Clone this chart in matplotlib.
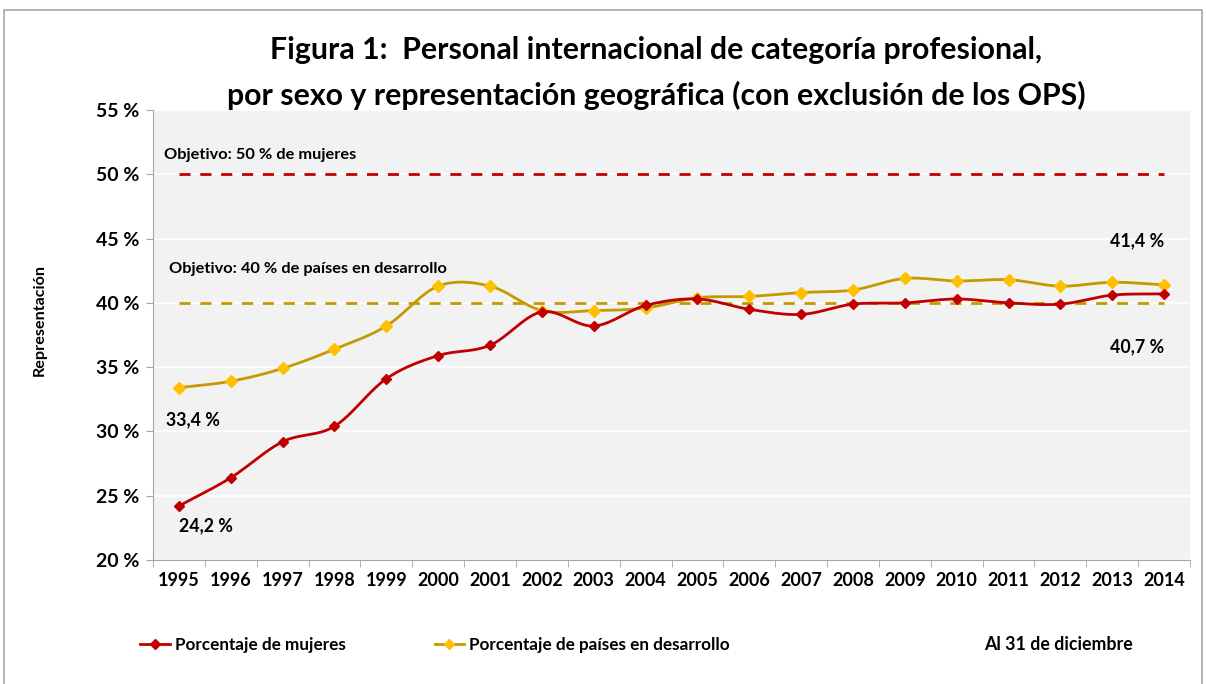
import numpy as np
import matplotlib
matplotlib.use('Agg')
import matplotlib.pyplot as plt
from matplotlib.lines import Line2D
from matplotlib.patches import Rectangle

plt.rcParams['font.family'] = ['Lato', 'DejaVu Sans']
plt.rcParams['font.weight'] = 'bold'

# datos
anios = ['1995', '1996', '1997', '1998', '1999', '2000', '2001', '2002', '2003', '2004',
         '2005', '2006', '2007', '2008', '2009', '2010', '2011', '2012', '2013', '2014']
mujeres = [24.2, 26.4, 29.2, 30.4, 34.1, 35.9, 36.7, 39.3, 38.2, 39.8,
           40.3, 39.5, 39.1, 39.9, 40.0, 40.3, 40.0, 39.9, 40.6, 40.7]
paises_desarrollo = [33.4, 33.9, 34.9, 36.4, 38.2, 41.3, 41.3, 39.4, 39.4, 39.6,
                     40.4, 40.5, 40.8, 41.0, 41.9, 41.7, 41.8, 41.3, 41.6, 41.4]
objetivo_mujeres = 50
objetivo_paises = 40
yticks = [20, 25, 30, 35, 40, 45, 50, 55]

rojo = '#C00000'
oro = '#C49A00'
amarillo = '#FFC000'


def suavizar(y, n=20):
    # curva suave tipo Excel (Catmull-Rom) entre los puntos
    y = np.asarray(y, dtype=float)
    p = np.concatenate([[2 * y[0] - y[1]], y, [2 * y[-1] - y[-2]]])
    xs, ys = [], []
    for i in range(len(y) - 1):
        p0, p1, p2, p3 = p[i], p[i + 1], p[i + 2], p[i + 3]
        t = np.linspace(0, 1, n, endpoint=False)
        yy = 0.5 * ((2 * p1) + (-p0 + p2) * t + (2 * p0 - 5 * p1 + 4 * p2 - p3) * t ** 2
                    + (-p0 + 3 * p1 - 3 * p2 + p3) * t ** 3)
        xs.extend(i + t)
        ys.extend(yy)
    xs.append(len(y) - 1)
    ys.append(y[-1])
    return np.array(xs), np.array(ys)


def pct(v):
    return f'{v} %'.replace('.', ',')


fig = plt.figure(figsize=(12.06, 6.84), dpi=100)
fig.patches.append(Rectangle((4 / 1206, -0.01), 1198 / 1206, (684 - 10) / 684 + 0.01,
                             transform=fig.transFigure, fill=False, edgecolor='#A6A6A6', lw=1.2))

ax = fig.add_axes([153 / 1206, (684 - 560) / 684, (1190 - 153) / 1206, 450 / 684])
ax.set_facecolor('#F2F2F2')
x = np.arange(len(anios))

for v in yticks:
    ax.axhline(v, color='white', lw=1.2, zorder=1)

ax.plot([0, len(anios) - 1], [objetivo_mujeres] * 2, color=rojo, lw=2, ls=(0, (4, 3.5)), zorder=2)
ax.plot([0, len(anios) - 1], [objetivo_paises] * 2, color=oro, lw=2, ls=(0, (4, 3.5)), zorder=2)

xs, ys = suavizar(paises_desarrollo)
ax.plot(xs, ys, color=oro, lw=2, zorder=3)
ax.plot(x, paises_desarrollo, ls='', marker='D', ms=6.5, color=amarillo, mec=amarillo, zorder=4)
xs, ys = suavizar(mujeres)
ax.plot(xs, ys, color=rojo, lw=2, zorder=5)
ax.plot(x, mujeres, ls='', marker='D', ms=5.5, color=rojo, mec=rojo, zorder=6)

ax.set_xlim(-0.5, len(anios) - 0.5)
ax.set_ylim(20, 55)
ax.set_yticks(yticks)
ax.set_yticklabels([f'{v} %' for v in yticks], fontsize=14, fontweight='bold')
ax.set_xticks(x)
ax.set_xticklabels(anios, fontsize=13, fontweight='bold')
ax.set_xticks(np.arange(-0.5, len(anios)), minor=True)
ax.tick_params(axis='x', which='major', length=0, pad=9)
ax.tick_params(axis='x', which='minor', length=5, color='#A6A6A6')
ax.tick_params(axis='y', length=5, color='#A6A6A6', pad=5)
for s in ['top', 'right']:
    ax.spines[s].set_visible(False)
for s in ['left', 'bottom']:
    ax.spines[s].set_color('#A6A6A6')

ax.set_ylabel('Representación', fontsize=11.6, fontweight='bold')
ax.yaxis.set_label_coords(-0.102, 0.533)

ax.text(-0.28, 51.5, 'Objetivo: 50 % de mujeres', fontsize=11.8, va='center')
ax.text(-0.2, 42.65, 'Objetivo: 40 % de países en desarrollo', fontsize=11.8, va='center')
ax.text(-0.25, 30.9, pct(paises_desarrollo[0]), fontsize=12.8, va='center')
ax.text(0.0, 22.7, pct(mujeres[0]), fontsize=12.8, va='center')
ax.text(len(anios) - 1, 44.8, pct(paises_desarrollo[-1]), fontsize=12.8, ha='right', va='center')
ax.text(len(anios) - 1, 36.6, pct(mujeres[-1]), fontsize=12.8, ha='right', va='center')

fig.text(656 / 1206, 1 - 50 / 684, 'Figura 1:  Personal internacional de categoría profesional,',
         fontsize=21.8, ha='center', va='center')
fig.text(656 / 1206, 1 - 95 / 684, 'por sexo y representación geográfica (con exclusión de los OPS)',
         fontsize=21.8, ha='center', va='center')

handles = [Line2D([], [], color=rojo, lw=2, marker='D', ms=5, mfc=rojo, mec=rojo),
           Line2D([], [], color=oro, lw=2, marker='D', ms=5.5, mfc=amarillo, mec=amarillo)]
fig.legend(handles, ['Porcentaje de mujeres', 'Porcentaje de países en desarrollo'],
           loc='center left', bbox_to_anchor=(125 / 1206, 1 - 645 / 684), ncol=2, frameon=False,
           fontsize=12.3, handlelength=1.74, handletextpad=0.28, columnspacing=5.2)
fig.text(1133 / 1206, 1 - 645 / 684, 'Al 31 de diciembre', fontsize=12.8, ha='right', va='center')

fig.savefig('out.png', dpi=100)
